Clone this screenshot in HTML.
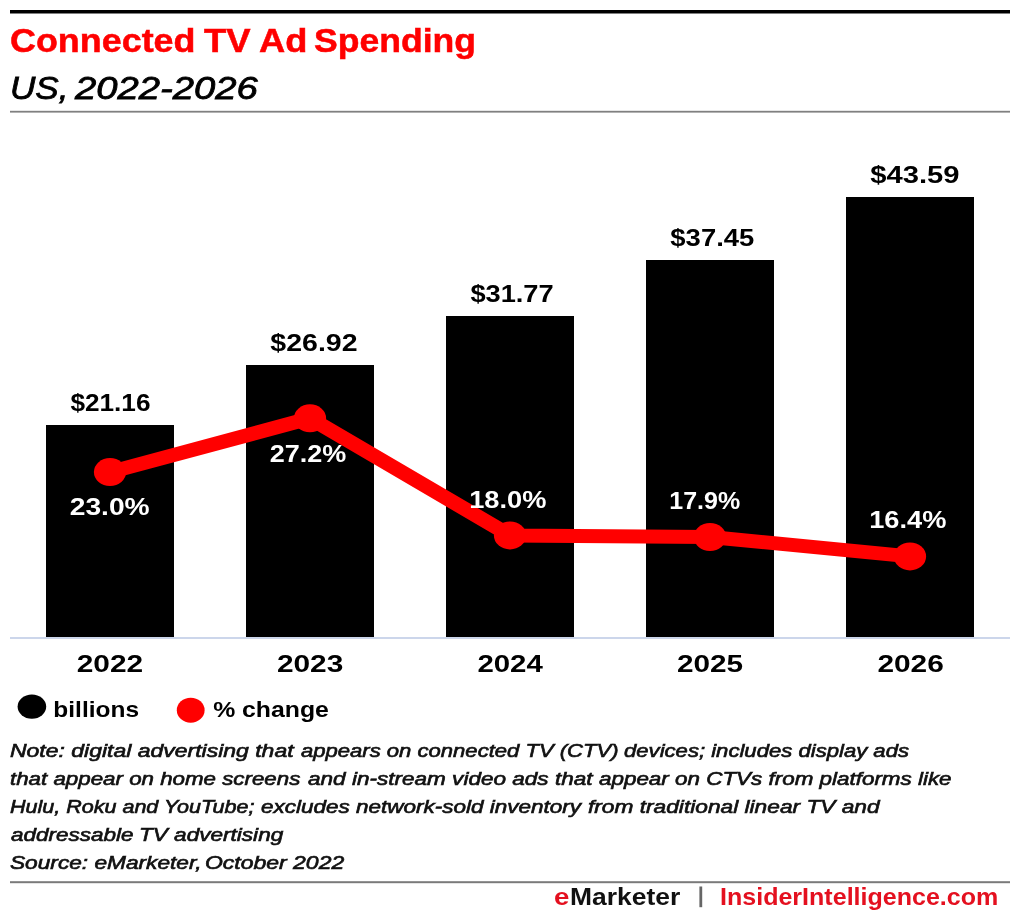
<!DOCTYPE html>
<html lang="en">
<head>
<meta charset="utf-8">
<title>Connected TV Ad Spending, US, 2022-2026</title>
<style>
  html, body { margin: 0; padding: 0; background: #fff; }
  body { width: 1020px; height: 920px; position: relative; overflow: hidden; will-change: transform;
         font-family: "Liberation Sans", Arial, Helvetica, sans-serif; color: #000; }
  h1, h2, p { margin: 0; padding: 0; font-weight: normal; }
  .t { position: absolute; white-space: nowrap; line-height: 1; transform-origin: 0 0; }
  h1 { font-size: 32.6px; font-weight: bold; color: #ff0000; -webkit-text-stroke: 0.5px #ff0000; }
  h2 { font-size: 32px; font-style: italic; color: #000; -webkit-text-stroke: 0.8px #000; }
  .notes p { font-size: 19px; font-style: italic; color: #111; -webkit-text-stroke: 0.65px #111; }
  footer { font-size: 24px; font-weight: bold; color: #111; }
  footer .r, footer .site { color: #e4101f; }
  svg.chart { position: absolute; left: 0; top: 0; }
  svg.chart text { font-family: "Liberation Sans", Arial, Helvetica, sans-serif; font-weight: bold; }
</style>
</head>
<body>
<header>
  <h1><span class="t" style="left:10.38px;top:25.20px;transform:scaleX(1.1018)">Connected</span> <span class="t" style="left:203.62px;top:25.20px;transform:scaleX(1.1198)">TV</span> <span class="t" style="left:258.91px;top:25.20px;transform:scaleX(1.1135)">Ad</span> <span class="t" style="left:314.14px;top:25.20px;transform:scaleX(1.0916)">Spending</span></h1>
  <h2><span class="t" style="left:9.80px;top:71.80px;transform:scaleX(1.0962)">US,</span> <span class="t" style="left:75.42px;top:71.80px;transform:scaleX(1.1934)">2022-2026</span></h2>
</header>
<figure style="margin:0">
  <svg class="chart" width="1020" height="920" viewBox="0 0 1020 920">
    <!-- rules -->
    <rect x="10" y="10" width="1000" height="3.5" fill="#000"/>
    <rect x="10" y="110.8" width="1000" height="1.8" fill="#808080"/>
    <rect x="10" y="881.2" width="1000" height="2" fill="#7a7a7a"/>
    <!-- x axis line -->
    <rect x="10" y="637" width="1000" height="2" fill="#ccd6eb"/>
    <!-- columns: billions -->
    <g fill="#000">
      <rect x="46" y="425" width="128" height="212"/>
      <rect x="246" y="365" width="128" height="272"/>
      <rect x="446" y="316" width="128" height="321"/>
      <rect x="646" y="260" width="128" height="377"/>
      <rect x="846" y="197" width="128" height="440"/>
    </g>
    <!-- line: % change -->
    <g transform="scale(1.15 1)" fill="#ff0000">
      <polyline points="95.65,472.1 269.57,418.3 443.48,535.4 617.39,537.0 791.30,556.4" fill="none" stroke="#ff0000" stroke-width="14" stroke-linejoin="round" stroke-linecap="round"/>
      <circle cx="95.65" cy="472.1" r="14"/>
      <circle cx="269.57" cy="418.3" r="14"/>
      <circle cx="443.48" cy="535.4" r="14"/>
      <circle cx="617.39" cy="537.0" r="14"/>
      <circle cx="791.30" cy="556.4" r="14"/>
    </g>
    <!-- value labels -->
    <g>
      <text transform="translate(70.40 411.20) scale(1.0822 1)" font-size="24.2">$21.16</text>
      <text transform="translate(270.35 351.20) scale(1.1791 1)" font-size="24.2">$26.92</text>
      <text transform="translate(470.38 302.20) scale(1.1256 1)" font-size="24.2">$31.77</text>
      <text transform="translate(670.37 246.20) scale(1.1339 1)" font-size="24.2">$37.45</text>
      <text transform="translate(870.33 183.20) scale(1.2064 1)" font-size="24.2">$43.59</text>
    </g>
    <g>
      <text transform="translate(69.75 514.80) scale(1.1513 1)" font-size="24.5" fill="#fff">23.0%</text>
      <text transform="translate(269.80 461.70) scale(1.1026 1)" font-size="24.5" fill="#fff">27.2%</text>
      <text transform="translate(469.17 507.60) scale(1.1117 1)" font-size="24.5" fill="#fff">18.0%</text>
      <text transform="translate(669.31 509.00) scale(1.0210 1)" font-size="24.5" fill="#fff">17.9%</text>
      <text transform="translate(869.17 527.80) scale(1.1117 1)" font-size="24.5" fill="#fff">16.4%</text>
    </g>
    <!-- x axis labels -->
    <g>
      <text transform="translate(76.68 672.30) scale(1.2151 1)" font-size="24.6">2022</text>
      <text transform="translate(276.89 672.30) scale(1.2141 1)" font-size="24.6">2023</text>
      <text transform="translate(477.40 672.30) scale(1.1954 1)" font-size="24.6">2024</text>
      <text transform="translate(676.89 672.30) scale(1.2093 1)" font-size="24.6">2025</text>
      <text transform="translate(877.39 672.30) scale(1.2139 1)" font-size="24.6">2026</text>
    </g>
    <!-- legend -->
    <g>
      <ellipse cx="31.9" cy="706.6" rx="14.3" ry="12.2" fill="#000"/>
      <ellipse cx="190.7" cy="710.2" rx="13.9" ry="12.5" fill="#ff0000"/>
      <text transform="translate(53.34 717.00) scale(1.0885 1)" font-size="22.5">billions</text>
      <text transform="translate(213.14 717.00) scale(1.1024 1)" font-size="22.5">% change</text>
    </g>
    <!-- footer divider -->
    <rect x="699.4" y="886.5" width="2.8" height="20.7" fill="#666"/>
  </svg>
</figure>
<section class="notes">
  <p><span class="t" style="left:10.12px;top:741.40px;transform:scaleX(1.2094)">Note: digital advertising that</span> <span class="t" style="left:301.29px;top:741.40px;transform:scaleX(1.1611)">appears on connected TV (CTV)</span> <span class="t" style="left:624.41px;top:741.40px;transform:scaleX(1.1631)">devices; includes display ads</span></p>
  <p><span class="t" style="left:10.37px;top:769.35px;transform:scaleX(1.1748)">that appear on home screens</span> <span class="t" style="left:307.58px;top:769.35px;transform:scaleX(1.1867)">and in-stream video ads that</span> <span class="t" style="left:599.38px;top:769.35px;transform:scaleX(1.1799)">appear on CTVs from platforms like</span></p>
  <p><span class="t" style="left:10.14px;top:797.30px;transform:scaleX(1.1326)">Hulu, Roku and YouTube;</span> <span class="t" style="left:260.88px;top:797.30px;transform:scaleX(1.1835)">excludes network-sold inventory</span> <span class="t" style="left:587.83px;top:797.30px;transform:scaleX(1.1954)">from traditional linear TV and</span></p>
  <p><span class="t" style="left:10.78px;top:825.25px;transform:scaleX(1.1829)">addressable</span> <span class="t" style="left:139.05px;top:825.25px;transform:scaleX(1.1877)">TV advertising</span></p>
  <p><span class="t" style="left:10.29px;top:853.20px;transform:scaleX(1.1932)">Source: eMarketer,</span> <span class="t" style="left:205.30px;top:853.20px;transform:scaleX(1.2090)">October 2022</span></p>
</section>
<footer>
  <span class="logo"><span class="t r" style="left:553.55px;top:884.90px;transform:scaleX(1.1516)">e</span><span class="t" style="left:570.12px;top:884.90px;transform:scaleX(1.1019)">Marketer</span></span>
  <span class="t site" style="left:720.21px;top:884.90px;transform:scaleX(1.0434)">InsiderIntelligence.com</span>
</footer>
</body>
</html>
